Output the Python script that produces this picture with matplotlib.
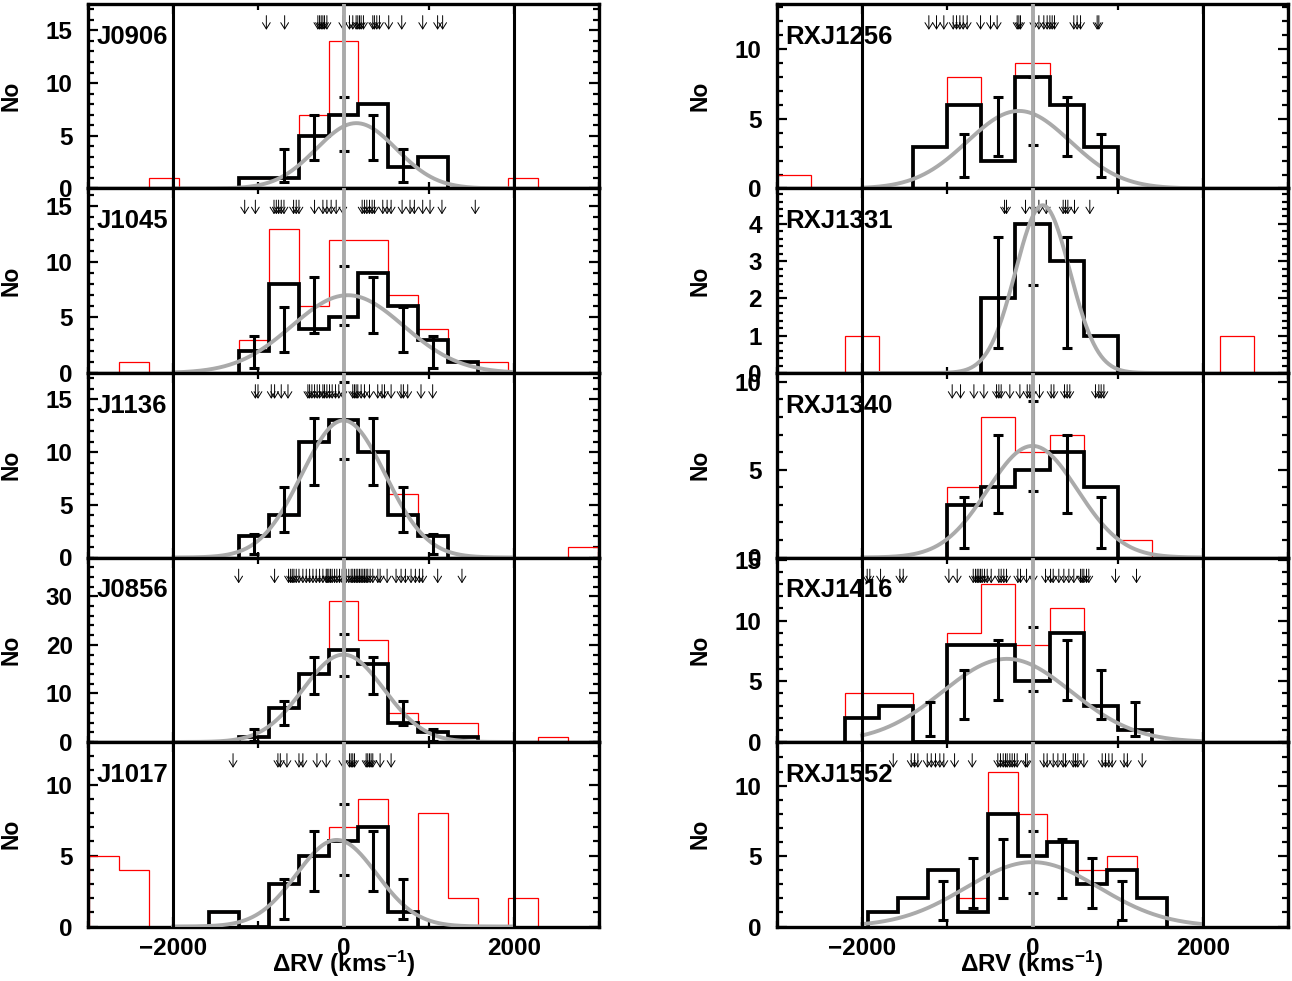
import numpy as np
import matplotlib
matplotlib.use('Agg')
import matplotlib.pyplot as plt
from matplotlib.ticker import MultipleLocator
from matplotlib.transforms import blended_transform_factory

plt.rcParams['font.family'] = 'Liberation Sans'
plt.rcParams['font.weight'] = 'bold'
plt.rcParams['mathtext.fontset'] = 'custom'
plt.rcParams['mathtext.rm'] = 'Liberation Sans:bold'
plt.rcParams['mathtext.bf'] = 'Liberation Sans:bold'
plt.rcParams['mathtext.it'] = 'Liberation Sans:bold'

# bin grids (km/s)
bins352 = np.arange(-2992, 2993, 352)
bins400 = np.arange(-3000, 3001, 400)

# ---- left column ----
j0906_black = [0, 0, 0, 0, 0, 1, 1, 5, 7, 8, 2, 3, 0, 0, 0, 0, 0]
j0906_red = [0, 0, 1, 0, 0, 1, 1, 7, 14, 8, 2, 3, 0, 0, 1, 0, 0]
j0906_err_x = [-704, -352, 0, 352, 704]
j0906_err_lo = [0.65, 2.7, 3.6, 2.7, 0.65]
j0906_err_hi = [3.75, 7.0, 8.7, 7.0, 3.75]
j0906_gauss = (6.2, 150, 470)
j0906_arrows = [-906, -691, -301, -281, -262, -242, -223, -195, -8, 70, 109, 148, 168,
                188, 207, 234, 344, 363, 391, 422, 531, 684, 930, 1105, 1164]

j1045_black = [0, 0, 0, 0, 0, 2, 8, 4, 5, 9, 6, 3, 1, 0, 0, 0, 0]
j1045_red = [0, 1, 0, 0, 0, 3, 13, 6, 12, 12, 7, 4, 1, 1, 0, 0, 0]
j1045_err_x = [-1056, -704, -352, 0, 352, 704, 1056]
j1045_err_lo = [0.42, 1.9, 3.56, 4.34, 3.56, 1.9, 0.42]
j1045_err_hi = [3.3, 5.96, 8.6, 9.64, 8.6, 5.96, 3.3]
j1045_gauss = (7.0, 50, 655)
j1045_arrows = [-1160, -1035, -816, -789, -762, -731, -699, -586, -555, -523, -340, -242,
                -195, -145, -86, -8, 219, 246, 274, 305, 336, 363, 461, 512, 559, 688, 781,
                832, 930, 1016, 1156, 1547]

j1136_black = [0, 0, 0, 0, 0, 2, 4, 11, 13, 10, 4, 2, 0, 0, 0, 0, 0]
j1136_red = [0, 0, 0, 0, 0, 2, 4, 11, 13, 10, 6, 2, 0, 0, 0, 0, 1]
j1136_err_x = [-1056, -704, -352, 0, 352, 704, 1056]
j1136_err_lo = [0.32, 2.4, 6.85, 9.3, 6.85, 2.4, 0.32]
j1136_err_hi = [2.23, 6.7, 13.2, 16.6, 13.2, 6.7, 2.23]
j1136_gauss = (13.0, 0, 490)
j1136_arrows = [-1035, -1004, -848, -809, -731, -652, -418, -398, -371, -340, -309, -281,
                -242, -223, -195, -164, -133, -94, -55, -8, 109, 129, 148, 168, 207, 246,
                305, 402, 453, 481, 559, 676, 703, 754, 910, 1047]

j0856_black = [0, 0, 0, 0, 0, 1, 7, 14, 19, 16, 4, 2, 1, 0, 0, 0, 0]
j0856_red = [0, 0, 0, 0, 0, 1, 7, 14, 29, 21, 6, 4, 4, 0, 0, 1, 0]
j0856_err_x = [-1056, -704, -352, 0, 352, 704, 1056]
j0856_err_lo = [0.3, 3.5, 9.8, 13.5, 9.8, 3.5, 0.3]
j0856_err_hi = [2.7, 8.4, 17.5, 22.2, 17.5, 8.4, 2.7]
j0856_gauss = (18.0, 0, 473)
j0856_arrows = [-1231, -809, -645, -621, -602, -582, -555, -523, -477, -437, -398, -359,
                -320, -281, -242, -203, -191, -172, -152, -133, -105, -78, -47, -16, 31, 62,
                90, 109, 129, 149, 168, 188, 207, 227, 246, 266, 285, 313, 344, 403, 430,
                512, 617, 676, 727, 793, 844, 891, 930, 1106, 1391]

j1017_black = [0, 0, 0, 0, 1, 0, 3, 5, 6, 7, 1, 0, 0, 0, 0, 0, 0]
j1017_red = [5, 4, 0, 0, 1, 0, 3, 5, 7, 9, 1, 8, 2, 0, 2, 0, 0]
j1017_err_x = [-704, -352, 0, 352, 704]
j1017_err_lo = [0.52, 2.5, 3.6, 2.5, 0.52]
j1017_err_hi = [3.37, 6.75, 8.6, 6.75, 3.37]
j1017_gauss = (6.1, -80, 470)
j1017_arrows = [-1297, -770, -742, -664, -523, -477, -312, -203, -8, 70, 90, 109, 129,
                266, 285, 305, 324, 344, 430, 559]

# ---- right column ----
rxj1256_black = [0, 0, 0, 0, 3, 6, 2, 8, 6, 3, 0, 0, 0, 0, 0]
rxj1256_red = [1, 0, 0, 0, 3, 8, 2, 9, 6, 3, 0, 0, 0, 0, 0]
rxj1256_err_x = [-800, -400, 0, 400, 800]
rxj1256_err_lo = [0.79, 2.31, 3.1, 2.31, 0.79]
rxj1256_err_hi = [3.92, 6.56, 8.0, 6.56, 3.92]
rxj1256_gauss = (5.55, -160, 605)
rxj1256_arrows = [-1217, -1127, -1041, -931, -892, -853, -814, -767, -610, -493, -415,
                  -180, -160, -141, 16, 75, 133, 172, 204, 231, 258, 485, 524, 564, 759, 779]

rxj1331_black = [0, 0, 0, 0, 0, 0, 2, 4, 3, 1, 0, 0, 0, 0, 0]
rxj1331_red = [0, 0, 1, 0, 0, 0, 2, 4, 3, 1, 0, 0, 0, 1, 0]
rxj1331_err_x = [-400, 0, 400]
rxj1331_err_lo = [0.68, 2.35, 0.68]
rxj1331_err_hi = [3.66, 6.57, 3.66]
rxj1331_gauss = (4.5, 120, 320)
rxj1331_arrows = [-328, -305, -82, 16, 75, 161, 360, 388, 415, 493, 673]

rxj1340_black = [0, 0, 0, 0, 0, 3, 4, 5, 6, 4, 0, 0, 0, 0, 0]
rxj1340_red = [0, 0, 0, 0, 0, 4, 8, 6, 7, 4, 1, 0, 0, 0, 0]
rxj1340_err_x = [-800, -400, 0, 400, 800]
rxj1340_err_lo = [0.54, 2.56, 3.8, 2.56, 0.54]
rxj1340_err_hi = [3.46, 7.0, 8.9, 7.0, 3.46]
rxj1340_gauss = (6.35, 0, 528)
rxj1340_arrows = [-943, -845, -688, -571, -422, -395, -368, -266, -148, -62, -31, -4, 82,
                  219, 251, 376, 407, 438, 740, 779, 806, 838]

rxj1416_black = [0, 0, 2, 3, 0, 8, 8, 5, 9, 3, 1, 0, 0, 0, 0]
rxj1416_red = [0, 0, 4, 4, 0, 9, 13, 8, 11, 3, 1, 0, 0, 0, 0]
rxj1416_err_x = [-1200, -800, -400, 0, 400, 800, 1200]
rxj1416_err_lo = [0.47, 1.86, 3.44, 4.17, 3.44, 1.86, 0.47]
rxj1416_err_hi = [3.33, 5.9, 8.44, 9.44, 8.44, 5.9, 3.33]
rxj1416_gauss = (6.85, -300, 755)
rxj1416_arrows = [-1941, -1910, -1784, -1557, -1518, -982, -884, -696, -669, -649, -630,
                  -610, -591, -563, -532, -485, -395, -368, -337, -305, -172, -141, -70, 8,
                  153, 212, 243, 309, 368, 427, 485, 564, 583, 603, 634, 661, 975, 1221]

rxj1552_black = [0, 0, 0, 1, 2, 4, 1, 8, 5, 6, 3, 4, 2, 0, 0, 0, 0]
rxj1552_red = [0, 0, 0, 1, 2, 4, 2, 11, 8, 6, 4, 5, 2, 0, 0, 0, 0]
rxj1552_err_x = [-1056, -704, -352, 0, 352, 704, 1056]
rxj1552_err_lo = [0.43, 1.28, 2.05, 2.37, 2.05, 1.28, 0.43]
rxj1552_err_hi = [3.26, 4.83, 6.2, 6.76, 6.2, 4.83, 3.26]
rxj1552_gauss = (4.57, 0, 780)
rxj1552_arrows = [-1635, -1424, -1385, -1346, -1236, -1189, -1139, -1088, -1041, -915,
                  -708, -407, -376, -344, -317, -297, -266, -239, -211, -180, -82, -62, 133,
                  172, 243, 298, 360, 388, 478, 505, 532, 603, 818, 857, 896, 935, 1075,
                  1114, 1288]

# name, bins, data..., ylim top, major step, minor step
left_panels = [
    ('J0906', bins352, j0906_black, j0906_red, j0906_err_x, j0906_err_lo, j0906_err_hi, j0906_gauss, j0906_arrows, 17.5, 5, 1),
    ('J1045', bins352, j1045_black, j1045_red, j1045_err_x, j1045_err_lo, j1045_err_hi, j1045_gauss, j1045_arrows, 16.6, 5, 1),
    ('J1136', bins352, j1136_black, j1136_red, j1136_err_x, j1136_err_lo, j1136_err_hi, j1136_gauss, j1136_arrows, 17.5, 5, 1),
    ('J0856', bins352, j0856_black, j0856_red, j0856_err_x, j0856_err_lo, j0856_err_hi, j0856_gauss, j0856_arrows, 38, 10, 2),
    ('J1017', bins352, j1017_black, j1017_red, j1017_err_x, j1017_err_lo, j1017_err_hi, j1017_gauss, j1017_arrows, 13, 5, 1),
]
right_panels = [
    ('RXJ1256', bins400, rxj1256_black, rxj1256_red, rxj1256_err_x, rxj1256_err_lo, rxj1256_err_hi, rxj1256_gauss, rxj1256_arrows, 13.2, 5, 1),
    ('RXJ1331', bins400, rxj1331_black, rxj1331_red, rxj1331_err_x, rxj1331_err_lo, rxj1331_err_hi, rxj1331_gauss, rxj1331_arrows, 4.95, 1, 0.2),
    ('RXJ1340', bins400, rxj1340_black, rxj1340_red, rxj1340_err_x, rxj1340_err_lo, rxj1340_err_hi, rxj1340_gauss, rxj1340_arrows, 10.5, 5, 1),
    ('RXJ1416', bins400, rxj1416_black, rxj1416_red, rxj1416_err_x, rxj1416_err_lo, rxj1416_err_hi, rxj1416_gauss, rxj1416_arrows, 15.2, 5, 1),
    ('RXJ1552', bins352, rxj1552_black, rxj1552_red, rxj1552_err_x, rxj1552_err_lo, rxj1552_err_hi, rxj1552_gauss, rxj1552_arrows, 13.1, 5, 1),
]

GREY = '#aaaaaa'


def draw_panel(ax, p, bottom_row):
    name, edges, black, red, ex, elo, ehi, g, arrows, ytop, major, minor = p
    black = np.array(black)
    red = np.array(red)

    ax.stairs(red, edges, baseline=0, color='red', lw=0.9, zorder=2)
    # black outline only over its occupied range
    nz = np.nonzero(black)[0]
    i0, i1 = nz[0], nz[-1] + 1
    ax.stairs(black[i0:i1], edges[i0:i1 + 1], baseline=0, color='black', lw=2.7, zorder=3)

    amp, mu, sig = g
    xx = np.linspace(-2000, 2000, 400)
    ax.plot(xx, amp * np.exp(-0.5 * ((xx - mu) / sig) ** 2), color=GREY, lw=2.8, zorder=4)

    lo = np.array(elo)
    hi = np.array(ehi)
    ax.errorbar(ex, lo, yerr=[np.zeros_like(lo), hi - lo], fmt='none', ecolor='black',
                elinewidth=2.2, capsize=3.3, capthick=2.2, zorder=5)

    ax.axvline(-2000, color='black', lw=2.2, zorder=6)
    ax.axvline(2000, color='black', lw=2.2, zorder=6)
    ax.axvline(0, color=GREY, lw=2.8, zorder=7)

    trans = blended_transform_factory(ax.transData, ax.transAxes)
    for v in arrows:
        ax.annotate('', xy=(v, 0.86), xytext=(v, 0.937), xycoords=trans, textcoords=trans,
                    arrowprops=dict(arrowstyle='->,head_length=0.45,head_width=0.28',
                                    lw=0.7, color='black', shrinkA=0, shrinkB=0))

    ax.text(0.016, 0.822, name, transform=ax.transAxes, fontsize=18.5, fontweight='bold',
            ha='left', va='center', zorder=8)

    ax.set_xlim(-3000, 3000)
    ax.set_ylim(0, ytop)
    ax.xaxis.set_major_locator(MultipleLocator(2000))
    ax.xaxis.set_minor_locator(MultipleLocator(1000))
    ax.yaxis.set_major_locator(MultipleLocator(major))
    ax.yaxis.set_minor_locator(MultipleLocator(minor))
    ax.tick_params(which='both', direction='in', top=True, right=True, width=1.6)
    ax.tick_params(which='major', length=7)
    ax.tick_params(which='minor', length=4)
    ax.tick_params(axis='y', labelsize=17.5, pad=11)
    ax.tick_params(axis='x', labelsize=17.5, pad=7.5, labelbottom=bottom_row)
    for s in ax.spines.values():
        s.set_linewidth(2.4)

    ax.set_ylabel('No', fontsize=16.5, fontweight='bold')
    ax.yaxis.set_label_coords(-0.128, 0.5)


fig = plt.figure(figsize=(12.92, 9.81), dpi=100)

ax_w = 511 / 1292
ax_h = 184.5 / 981
y0 = 1 - 926.5 / 981
for col, (panels, x0) in enumerate([(left_panels, 88 / 1292), (right_panels, 777 / 1292)]):
    for row, p in enumerate(panels):
        ax = fig.add_axes([x0, y0 + (4 - row) * ax_h, ax_w, ax_h])
        draw_panel(ax, p, row == 4)

xlab = r'ΔRV (kms$^{-1}$)'
fig.text(344 / 1292, 0.017, xlab, ha='center', va='center', fontsize=17.5, fontweight='bold')
fig.text(1032 / 1292, 0.017, xlab, ha='center', va='center', fontsize=17.5, fontweight='bold')

fig.savefig('out.png', dpi=100)
